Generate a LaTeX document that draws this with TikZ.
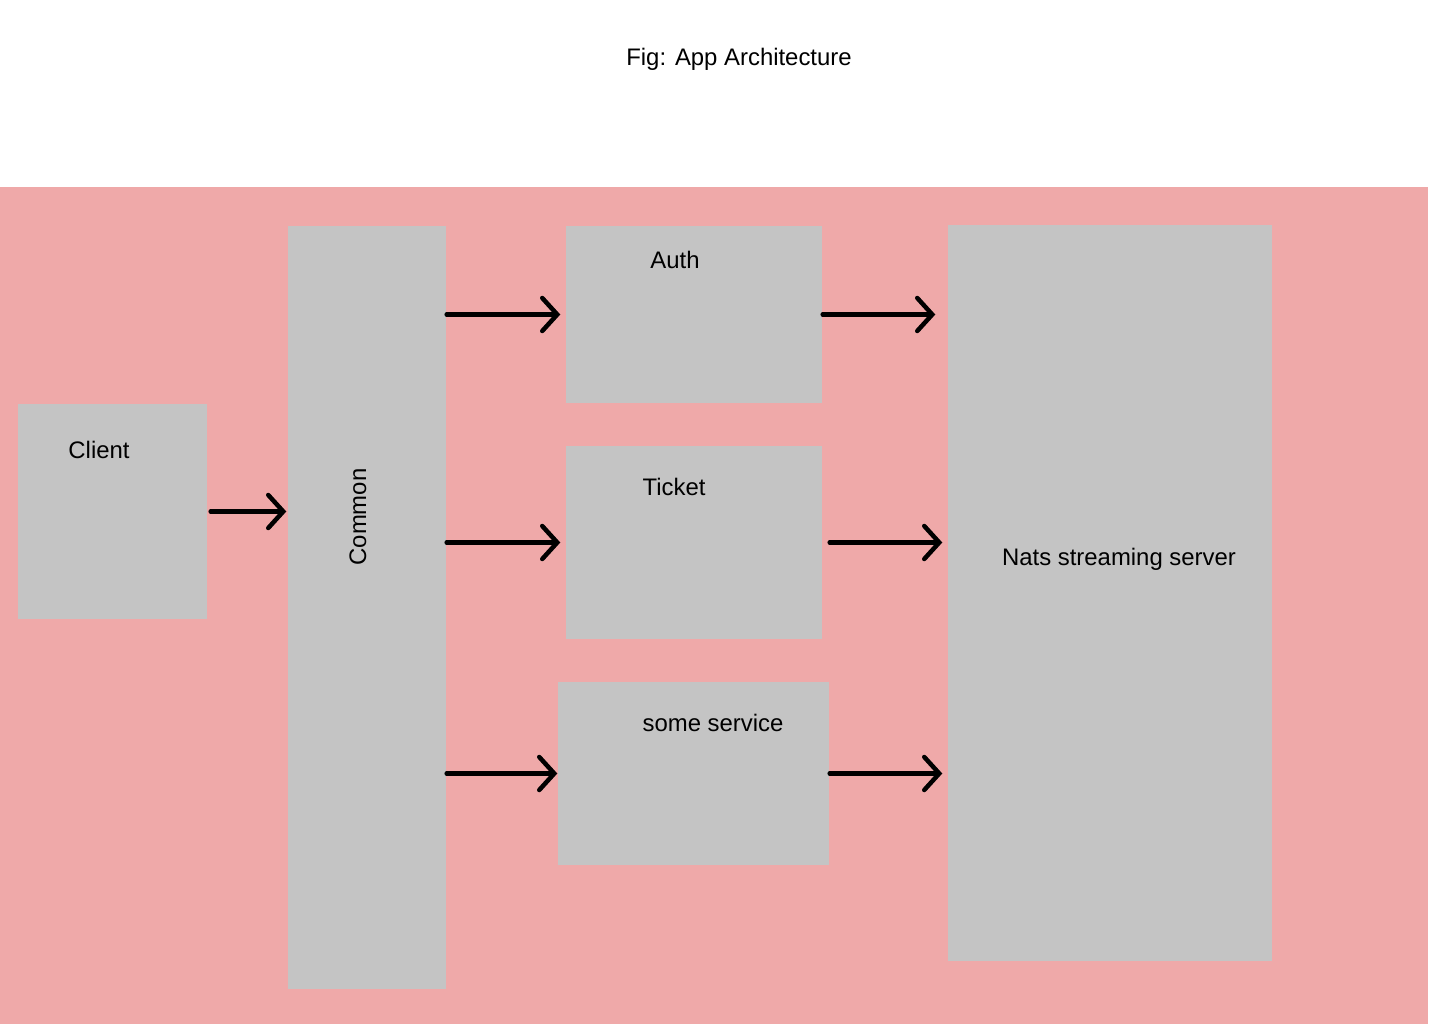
\documentclass[tikz,border=0pt]{standalone}
\usepackage{fontspec}
\setmainfont{Liberation Sans}
\usetikzlibrary{arrows.meta}

\definecolor{panelpink}{HTML}{EFA9A9}
\definecolor{boxgray}{HTML}{C4C4C4}

\tikzset{
  box/.style={fill=boxgray, draw=none, inner sep=0pt},
  lbl/.style={font=\fontsize{6.8}{8}\selectfont, inner sep=0pt},
  flow/.style={line width=0.045cm, line cap=round,
    -{Straight Barb[length=0.15cm, width=0.33cm, line width=0.045cm, line cap=round]}}
}

\begin{document}
\begin{tikzpicture}
    \useasboundingbox (0, 0) rectangle (14.4, 10.24);
    \fill[panelpink] (0, 0) rectangle (14.28, 8.37);

    \node[lbl] (title) at (7.39, 9.65) {Fig: App Architecture};

    % boxes
    \node[box, minimum width=1.89cm, minimum height=2.15cm] (client) at (1.125, 5.125) {};
    \node[box, minimum width=1.58cm, minimum height=7.63cm] (common) at (3.67, 4.165) {};
    \node[box, minimum width=2.56cm, minimum height=1.77cm] (auth) at (6.94, 7.095) {};
    \node[box, minimum width=2.56cm, minimum height=1.93cm] (ticket) at (6.94, 4.815) {};
    \node[box, minimum width=2.71cm, minimum height=1.83cm] (some) at (6.935, 2.505) {};
    \node[box, minimum width=3.24cm, minimum height=7.36cm] (nats) at (11.10, 4.31) {};

    % labels
    \node[lbl] (clientlbl) at (0.99, 5.74) {Client};
    \node[lbl, rotate=90] (commonlbl) at (3.58, 5.07) {Common};
    \node[lbl] (authlbl) at (6.75, 7.64) {Auth};
    \node[lbl] (ticketlbl) at (6.74, 5.37) {Ticket};
    \node[lbl] (somelbl) at (7.13, 3.01) {some service};
    \node[lbl] (natslbl) at (11.19, 4.65) {Nats streaming server};

    % arrows
    \draw[flow, shorten <=0.03cm, shorten >=0.01cm] (client.east) -- (common.west |- client.east);
    \draw[flow, shorten >=0.05cm] (common.east |- auth.west) -- (auth.west);
    \draw[flow, shorten >=0.05cm] (common.east |- ticket.west) -- (ticket.west);
    \draw[flow] (common.east |- some.west) -- (some.west);
    \draw[flow, shorten >=0.12cm] (auth.east) -- (nats.west |- auth.east);
    \draw[flow, shorten <=0.07cm, shorten >=0.05cm] (ticket.east) -- (nats.west |- ticket.east);
    \draw[flow, shorten >=0.05cm] (some.east) -- (nats.west |- some.east);
  \end{tikzpicture}
\end{document}
